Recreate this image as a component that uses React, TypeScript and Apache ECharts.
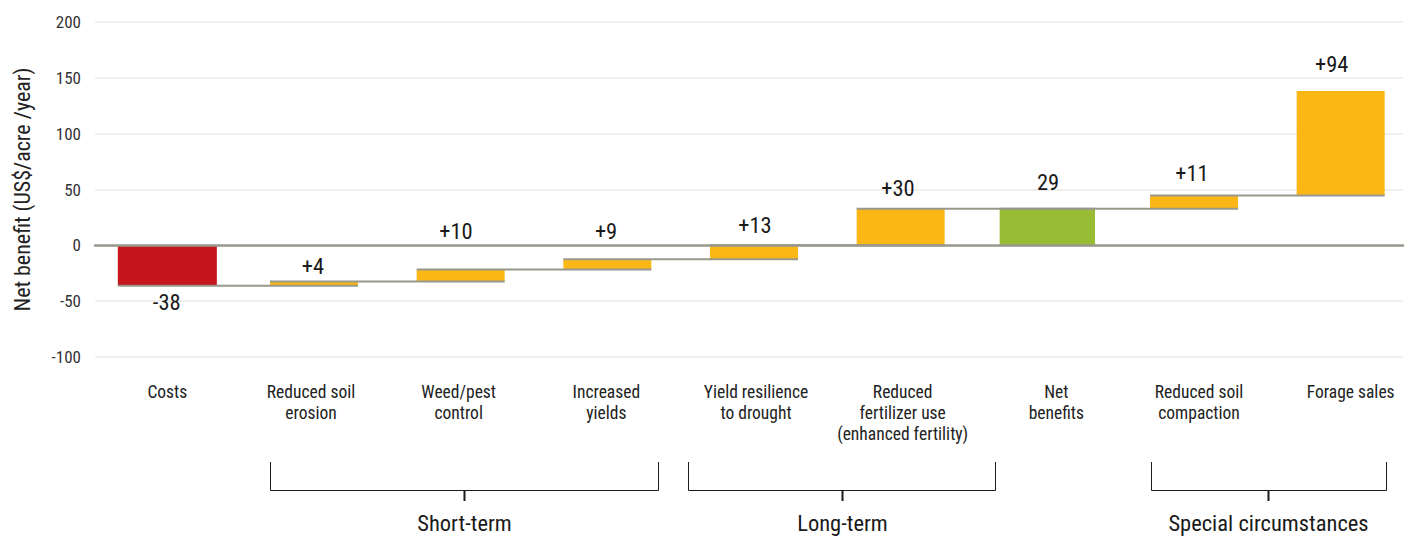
import React, { useEffect, useRef } from "react";
import * as echarts from "echarts";

// ---------- data ----------
const categories = [
  "Costs",
  "Reduced soil\nerosion",
  "Weed/pest\ncontrol",
  "Increased\nyields",
  "Yield resilience\nto drought",
  "Reduced\nfertilizer use\n(enhanced fertility)",
  "Net\nbenefits",
  "Reduced soil\ncompaction",
  "Forage sales",
];
// change contributed by each step (as drawn), totals marked separately
const changes = [-36.3, 3.9, 10.7, 9.3, 12.4, 32.7, 0, 11.9, 93.7];
const isTotal = [false, false, false, false, false, false, true, false, false];
const valueLabels = ["-38", "+4", "+10", "+9", "+13", "+30", "29", "+11", "+94"];
const kinds = ["cost", "benefit", "benefit", "benefit", "benefit", "benefit", "total", "benefit", "benefit"];
const yMin = -100;
const yMax = 200;
const yInterval = 50;
const groupNames = ["Short-term", "Long-term", "Special circumstances"];

// ---------- styles / layout ----------
const FONT = '"Roboto Condensed", "Liberation Sans Narrow", sans-serif';
const COLORS: Record<string, string> = { cost: "#c4161c", benefit: "#fbb715", total: "#98bc33" };
const LINE_GRAY = "#98988c";
const GRID_GRAY = "#ebeae4";
const WIDTH_RATIO = [0.675, 0.6, 0.6, 0.6, 0.6, 0.6, 0.65, 0.6, 0.6];
const LABEL_OFFSETS: [number, number][] = [
  [-0.6, 16],
  [-1, -16],
  [-4.7, -38.3],
  [-1.3, -28.6],
  [1, -20.4],
  [-2.7, -21],
  [0.7, -27.3],
  [-2, -22.3],
  [-9, -27],
];
// horizontal nudge of category labels (px, + = right)
const CAT_SHIFT = [0, -3, -2, -1, 2, 2, 9, 5, 10];
const BRACKETS = [
  { left: 270.5, right: 658.5, mid: 464.5 },
  { left: 688.5, right: 995.5, mid: 842.5 },
  { left: 1151.5, right: 1386.5, mid: 1268.5 },
];

export default function App() {
  const ref = useRef<HTMLDivElement>(null);

  useEffect(() => {
    document.body.style.margin = "0";
    if (!ref.current) return;
    const chart = echarts.init(ref.current, undefined, { renderer: "svg" });

    const starts: number[] = [];
    const ends: number[] = [];
    let run = 0;
    changes.forEach((c, i) => {
      if (isTotal[i]) {
        starts.push(0);
        ends.push(run);
      } else {
        starts.push(run);
        run = run + c;
        ends.push(run);
      }
    });
    const data = categories.map((_, i) => [i, starts[i], ends[i]]);
    const n = categories.length;

    const renderItem = (params: any, api: any) => {
      const i = api.value(0);
      const s = api.value(1);
      const e = api.value(2);
      const band = api.size([1, 0])[0];
      const w = band * WIDTH_RATIO[i];
      const p0 = api.coord([i, s]);
      const p1 = api.coord([i, e]);
      const x = p0[0] - w / 2;
      const yTop = Math.min(p0[1], p1[1]);
      const yBot = Math.max(p0[1], p1[1]);
      const children: any[] = [
        {
          type: "rect",
          shape: { x, y: yTop, width: w, height: yBot - yTop },
          style: { fill: COLORS[kinds[i]] },
          z2: 1,
        },
      ];
      if (i < n - 1) {
        const next = api.coord([i + 1, e]);
        const wn = band * WIDTH_RATIO[i + 1];
        children.push({
          type: "line",
          shape: { x1: x, y1: p1[1], x2: next[0] + wn / 2, y2: p1[1] },
          style: { stroke: LINE_GRAY, lineWidth: 2 },
          z2: 10,
        });
      }
      const neg = e < s;
      const [dx, dy] = LABEL_OFFSETS[i];
      children.push({
        type: "text",
        x: p0[0] + dx,
        y: (neg ? yBot : yTop) + dy,
        style: {
          text: valueLabels[i],
          fill: "#1a1a1a",
          font: `22.5px ${FONT}`,
          align: "center",
          verticalAlign: "middle",
        },
        z2: 20,
      });
      return { type: "group", children };
    };

    const graphics: any[] = [];
    BRACKETS.forEach((b, k) => {
      graphics.push({
        type: "polyline",
        shape: { points: [[b.left, 462], [b.left, 490.5], [b.right, 490.5], [b.right, 462]] },
        style: { stroke: "#1a1a1a", lineWidth: 1, fill: null },
      });
      graphics.push({
        type: "line",
        shape: { x1: b.mid, y1: 490.5, x2: b.mid, y2: 501 },
        style: { stroke: "#1a1a1a", lineWidth: 2 },
      });
      graphics.push({
        type: "text",
        x: b.mid,
        y: 523,
        style: {
          text: groupNames[k],
          fill: "#1a1a1a",
          font: `22.5px ${FONT}`,
          align: "center",
          verticalAlign: "middle",
        },
      });
    });

    const rich: Record<string, any> = {};
    CAT_SHIFT.forEach((d, i) => {
      rich["c" + i] = {
        color: "#222",
        fontFamily: FONT,
        fontSize: 17.5,
        lineHeight: 21,
        padding: d >= 0 ? [0, 0, 0, 2 * d] : [0, -2 * d, 0, 0],
      };
    });

    chart.setOption({
      animation: false,
      backgroundColor: "#ffffff",
      grid: [
        { left: 95, right: 11, top: 22, bottom: 180 },
        { left: 94, right: 0, top: 22, bottom: 180 },
      ],
      xAxis: [
        {
          gridIndex: 0,
          type: "category",
          data: [""],
          z: 10,
          axisLine: { show: true, onZero: true, lineStyle: { color: LINE_GRAY, width: 2.5 } },
          axisTick: { show: false },
          axisLabel: { show: false },
          splitLine: { show: false },
        },
        {
          gridIndex: 1,
          type: "category",
          data: categories,
          axisLine: { show: false, onZero: false },
          axisTick: { show: false },
          axisLabel: {
            interval: 0,
            margin: 24,
            color: "#222",
            fontFamily: FONT,
            fontSize: 17.5,
            lineHeight: 21,
            align: "center",
            formatter: (v: string, idx: number) =>
              v
                .split("\n")
                .map((line) => `{c${idx}|${line}}`)
                .join("\n"),
            rich,
          },
        },
      ],
      yAxis: [
        {
          gridIndex: 0,
          type: "value",
          min: yMin,
          max: yMax,
          interval: yInterval,
          name: "Net benefit (US$/acre /year)",
          nameLocation: "middle",
          nameRotate: 90,
          nameGap: 62,
          nameTextStyle: { color: "#222", fontFamily: FONT, fontSize: 22 },
          axisLine: { show: false },
          axisTick: { show: false },
          axisLabel: { color: "#333", fontFamily: FONT, fontSize: 17, margin: 14 },
          splitLine: { show: true, lineStyle: { color: GRID_GRAY, width: 1.5 } },
        },
        {
          gridIndex: 1,
          type: "value",
          min: yMin,
          max: yMax,
          interval: yInterval,
          axisLine: { show: false },
          axisTick: { show: false },
          axisLabel: { show: false },
          splitLine: { show: false },
        },
      ],
      series: [
        {
          type: "custom",
          xAxisIndex: 1,
          yAxisIndex: 1,
          renderItem,
          encode: { x: 0, y: [1, 2] },
          data,
          clip: false,
        },
      ],
      graphic: graphics,
    });

    return () => chart.dispose();
  }, []);

  return (
    <div
      ref={ref}
      style={{ position: "absolute", left: 0, top: 0, width: 1414, height: 537 }}
    />
  );
}
